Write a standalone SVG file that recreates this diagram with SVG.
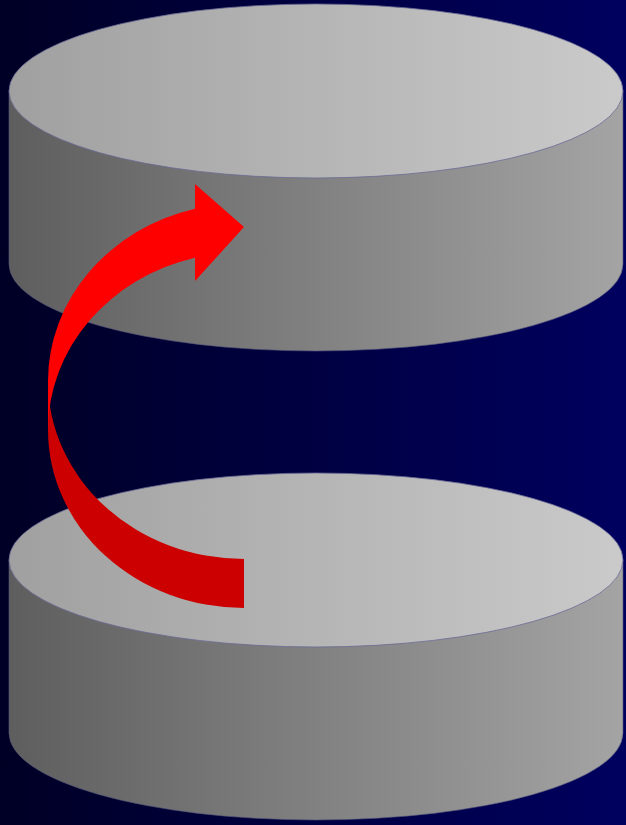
<svg xmlns="http://www.w3.org/2000/svg" width="626" height="825" viewBox="0 0 626 825">
<defs>
<linearGradient id="bg" x1="0" y1="0" x2="1" y2="0"><stop offset="0" stop-color="#000025"/><stop offset="1" stop-color="#00005f"/></linearGradient>
<linearGradient id="side" gradientUnits="userSpaceOnUse" x1="9" y1="0" x2="623" y2="0"><stop offset="0" stop-color="#5e5e5e"/><stop offset="1" stop-color="#a4a4a4"/></linearGradient>
<linearGradient id="top" gradientUnits="userSpaceOnUse" x1="9" y1="0" x2="623" y2="0"><stop offset="0" stop-color="#a0a0a0"/><stop offset="1" stop-color="#cacaca"/></linearGradient>
<style>
.side{fill:url(#side);stroke:#55557a;stroke-width:0.6}
.top{fill:url(#top);stroke:#6a6a96;stroke-width:0.8}
</style>
</defs>
<rect width="626" height="825" fill="url(#bg)"/>
<g id="cylinder-top">
<path class="side" d="M9 91 L9 264 A307 87 0 0 0 623 264 L623 91 Z"/>
<ellipse class="top" cx="316" cy="91" rx="307" ry="87"/>
</g>
<g id="cylinder-bottom">
<path class="side" d="M9 560 L9 733 A307 87 0 0 0 623 733 L623 560 Z"/>
<ellipse class="top" cx="316" cy="560" rx="307" ry="87"/>
</g>
<g id="connectors">
<path d="M244 608 A196 178 0 0 1 48 430 L48 381 A196 178 0 0 0 244 559 Z" fill="#cc0000"/>
<path d="M48 430 A196 178 0 0 1 195 257.7 L195 281 L244 227 L195 184 L195 208.7 A196 178 0 0 0 48 381 Z" fill="#ff0000"/>
</g>
</svg>
